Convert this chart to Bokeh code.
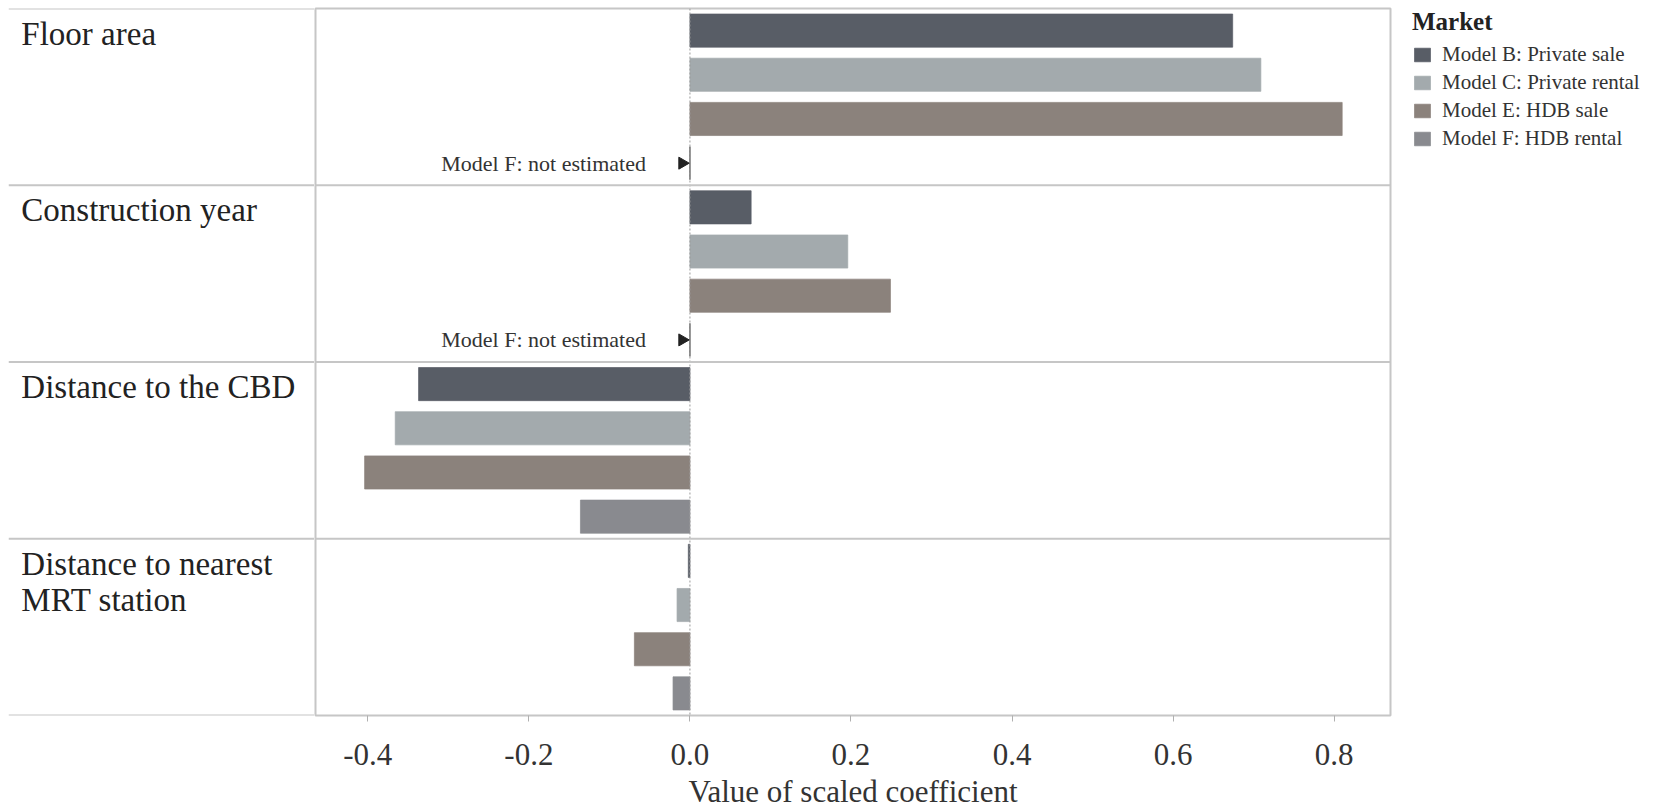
import math
from bokeh.plotting import figure
from bokeh.models import Range1d, Span, Legend, LegendItem, FixedTicker, ColumnDataSource
from bokeh.layouts import row
from bokeh.embed import file_html
from bokeh.resources import INLINE
from bokeh.core.properties import value

# ---------------- data ----------------
categories = ["Floor area", "Construction year", "Distance to the CBD",
              "Distance to nearest\nMRT station"]
models = ["Model B: Private sale", "Model C: Private rental",
          "Model E: HDB sale", "Model F: HDB rental"]
nan = float("nan")
model_b = [0.674, 0.076, -0.337, -0.002]
model_c = [0.709, 0.196, -0.366, -0.016]
model_e = [0.810, 0.249, -0.404, -0.069]
model_f = [nan, nan, -0.136, -0.021]
series = [model_b, model_c, model_e, model_f]
colors = ["#585d66", "#a3aaad", "#8b827c", "#898a8f"]
tick_values = [-0.4, -0.2, 0.0, 0.2, 0.4, 0.6, 0.8]
tick_labels = ["-0.4", "-0.2", "0.0", "0.2", "0.4", "0.6", "0.8"]
not_estimated_text = "Model F: not estimated"

FONT = "Liberation Serif"
n_groups = len(categories)
n_models = len(models)
FRAME_H = 707
TOP = 8
BOTTOM = 92
LINE_COL = "#c6c6c6"


def slot(g, m):
    return g * n_models + m + 0.5


yr = Range1d(n_groups * n_models, 0)

# ---------------- main panel ----------------
p = figure(frame_width=1075, frame_height=FRAME_H, min_border_left=1, min_border_right=270,
           min_border_top=TOP, min_border_bottom=BOTTOM,
           x_range=Range1d(-0.465, 0.87), y_range=yr,
           output_backend="svg", toolbar_location=None, y_axis_location=None)
p.grid.visible = False
p.outline_line_color = LINE_COL
p.outline_line_width = 2

p.add_layout(Span(location=0, dimension="height", line_color="#9a9a9a",
                  line_dash="2 2", line_width=1))
for g in range(1, n_groups):
    p.add_layout(Span(location=g * n_models, dimension="width",
                      line_color=LINE_COL, line_width=2))

renderers = []
for mi, (vals, col) in enumerate(zip(series, colors)):
    ys = [slot(g, mi) for g in range(n_groups)]
    src = ColumnDataSource(dict(y=ys, right=vals))
    r = p.hbar(y="y", left=0, right="right", height=0.75, source=src,
               fill_color=col, line_color=col, line_alpha=0.7)
    renderers.append(r)

    ne = [slot(g, mi) for g, v in enumerate(vals) if isinstance(v, float) and math.isnan(v)]
    if ne:
        p.segment(x0=[0] * len(ne), y0=[y - 0.375 for y in ne],
                  x1=[0] * len(ne), y1=[y + 0.375 for y in ne],
                  line_color="#6b6b6b", line_width=1.5)
        p.scatter(x=[-0.0095] * len(ne), y=ne, marker="triangle", angle=-math.pi / 2,
                  size=12, fill_color="#222222", line_color="#222222")
        p.text(x=[0] * len(ne), y=ne, text=[not_estimated_text] * len(ne),
               x_offset=-44, text_align="right", text_baseline="middle",
               text_font=value(FONT), text_font_size="22px", text_color="#333333")

ax = p.xaxis[0]
ax.ticker = FixedTicker(ticks=tick_values)
ax.major_label_overrides = {v: l for v, l in zip(tick_values, tick_labels)}
ax.axis_line_color = None
ax.major_tick_line_color = "#b0b0b0"
ax.major_tick_in = 0
ax.major_tick_out = 6
ax.minor_tick_line_color = None
ax.major_label_text_font = FONT
ax.major_label_text_font_size = "31px"
ax.major_label_text_color = "#333333"
ax.major_label_standoff = 22
ax.axis_label = "Value of scaled coefficient"
ax.axis_label_text_font = FONT
ax.axis_label_text_font_size = "31px"
ax.axis_label_text_font_style = "normal"
ax.axis_label_text_color = "#333333"
ax.axis_label_standoff = 6

legend = Legend(items=[LegendItem(label=m, renderers=[r]) for m, r in zip(models, renderers)],
                location=(18, 560), title="Market")
legend.title_text_font = FONT
legend.title_text_font_size = "25px"
legend.title_text_font_style = "bold"
legend.title_text_color = "#222222"
legend.title_standoff = 6
legend.label_text_font = FONT
legend.label_text_font_size = "21px"
legend.label_text_color = "#333333"
legend.glyph_width = 20
legend.glyph_height = 17
legend.label_standoff = 10
legend.label_height = 17
legend.spacing = 3
legend.padding = 4
legend.margin = 0
legend.border_line_alpha = 0
legend.background_fill_alpha = 0
p.add_layout(legend, "right")

# ---------------- label column ----------------
lp = figure(frame_width=306, frame_height=FRAME_H, min_border_left=8, min_border_right=0,
            min_border_top=TOP, min_border_bottom=BOTTOM,
            x_range=Range1d(0, 1), y_range=yr,
            output_backend="svg", toolbar_location=None,
            x_axis_location=None, y_axis_location=None)
lp.grid.visible = False
lp.outline_line_color = None
for g in range(0, n_groups + 1):
    lp.add_layout(Span(location=g * n_models, dimension="width",
                       line_color=LINE_COL, line_width=2))
lp.text(x=[0.042] * n_groups, y=[g * n_models + 0.16 for g in range(n_groups)],
        text=categories, text_align="left", text_baseline="top",
        text_font=value(FONT), text_font_size="33px", text_color="#222222",
        text_line_height=1.0)

layout = row(lp, p)
open("out.html", "w").write(file_html(layout, INLINE))
